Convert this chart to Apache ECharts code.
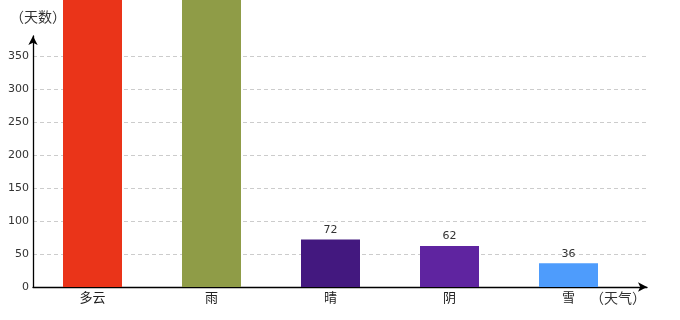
<!DOCTYPE html>
<html>
<head>
<meta charset="utf-8">
<script src="https://cdn.jsdelivr.net/npm/echarts@6/dist/echarts.min.js"></script>
<style>html,body{margin:0;padding:0;background:#fff}#c{width:680px;height:320px}</style>
</head>
<body>
<div id="c"></div>
<script>
var categories = ['多云', '雨', '晴', '阴', '雪'];
var days = [500, 460, 72, 62, 36];
var barColors = ['#ea3419', '#8f9c47', '#43187f', '#5f24a0', '#4e9cfc'];
var yTicks = [0, 50, 100, 150, 200, 250, 300, 350];
var yName = '（天数）';
var xName = '（天气）';

var font = '"DejaVu Sans", "Noto Sans CJK SC", sans-serif';
var cjk = '"Noto Sans CJK SC", sans-serif';
var chart = echarts.init(document.getElementById('c'), null, {renderer: 'canvas'});
chart.setOption({
  animation: false,
  grid: [
    {left: 33, right: 33, top: 36, bottom: 33},
    {left: 33, right: 52, top: 36, bottom: 33}
  ],
  xAxis: [
    {
      gridIndex: 0, type: 'value', min: 0, max: 1,
      axisLine: {show: true, onZero: false, lineStyle: {color: '#000', width: 1.3}, symbol: ['none', 'arrow'], symbolSize: [7, 9]},
      axisTick: {show: false}, axisLabel: {show: false}, splitLine: {show: false},
      name: xName, nameLocation: 'end', nameGap: -29,
      nameTextStyle: {align: 'center', verticalAlign: 'top', padding: [4, 0, 0, 0], fontSize: 14, color: '#333', fontFamily: cjk}
    },
    {
      gridIndex: 1, type: 'category', data: categories,
      axisLine: {show: false}, axisTick: {show: false},
      axisLabel: {color: '#222', fontSize: 13, margin: 4, fontFamily: cjk}
    }
  ],
  yAxis: [
    {
      gridIndex: 0, type: 'value', min: 0, max: 380, interval: 50,
      axisLine: {show: true, lineStyle: {color: '#000', width: 1.3}, symbol: ['none', 'arrow'], symbolSize: [7, 9]},
      axisTick: {show: false},
      axisLabel: {color: '#333', fontSize: 11, margin: 4, fontFamily: font, showMaxLabel: false},
      splitLine: {show: true, showMaxLine: false, lineStyle: {color: '#ccc', type: [4, 3], width: 1}},
      name: yName, nameLocation: 'end', nameGap: 12,
      nameTextStyle: {align: 'center', fontSize: 14, color: '#333', fontFamily: cjk, padding: [0, 0, 0, 10]}
    },
    {
      gridIndex: 1, type: 'value', min: 0, max: 380, interval: 50, show: false
    }
  ],
  series: [{
    type: 'bar', xAxisIndex: 1, yAxisIndex: 1,
    clip: false, barWidth: 59,
    data: days.map(function (v, i) { return {value: v, itemStyle: {color: barColors[i]}}; }),
    label: {show: true, position: 'top', distance: 4, color: '#333', fontSize: 11, fontFamily: font}
  }]
});
</script>
</body>
</html>
